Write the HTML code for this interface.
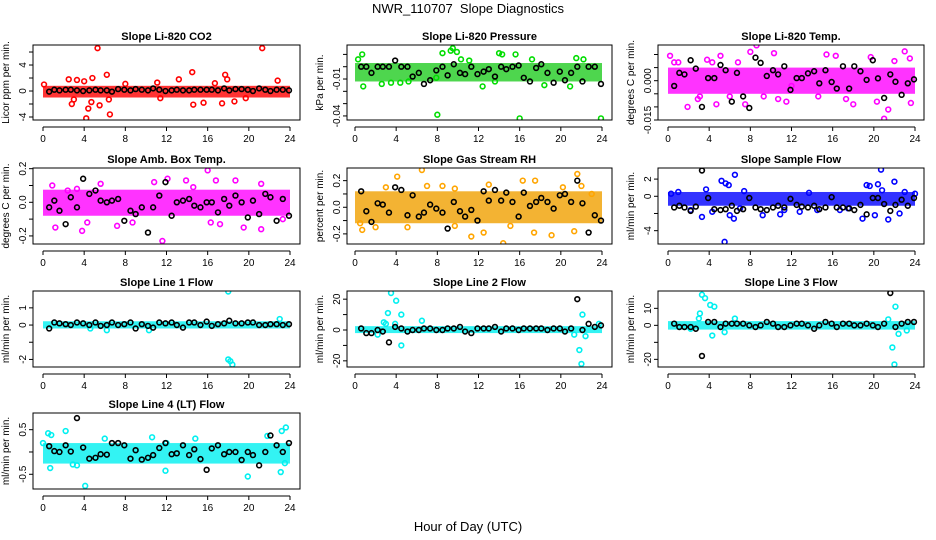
<!DOCTYPE html>
<html><head><meta charset="utf-8">
<style>
body{margin:0;background:#fff;}
svg{display:block;font-family:"Liberation Sans",Arial,sans-serif;}
</style></head>
<body>
<svg id="chart" width="936" height="540" viewBox="0 0 936 540">
<text x="468" y="13" text-anchor="middle" font-size="13">NWR_110707&#160; Slope Diagnostics</text>
<text x="468" y="531" text-anchor="middle" font-size="13">Hour of Day (UTC)</text>
</svg>
<script>
const blackHours=[0.6,1.1,1.6,2.2,2.7,3.3,3.9,4.5,5.1,5.6,6.2,6.7,7.3,7.9,8.5,9.0,9.6,10.2,10.7,11.3,11.9,12.5,13.0,13.6,14.2,14.7,15.3,15.9,16.4,17.0,17.6,18.1,18.7,19.3,19.9,20.4,21.0,21.6,22.1,22.7,23.3,23.9];
const xTicks=[0,4,8,12,16,20,24];
const titles=["Slope Li-820 CO2","Slope Li-820 Pressure","Slope Li-820 Temp.","Slope Amb. Box Temp.","Slope Gas Stream RH","Slope Sample Flow","Slope Line 1 Flow","Slope Line 2 Flow","Slope Line 3 Flow","Slope Line 4 (LT) Flow"];
const yLabels=["Licor ppm per min.","kPa per min.","degrees C per min.","degrees C per min.","percent per min.","ml/min per min.","ml/min per min.","ml/min per min.","ml/min per min.","ml/min per min."];
const colors=["#ff0000","#00dd00","#ff00ff","#ff00ff","#ffa500","#0000ff","#00f0f0","#00f0f0","#00f0f0","#00f0f0"];
const yTickVals=[[-4,-2,0,2,4,6],[0.01,0,-0.01,-0.02,-0.03,-0.04],[0.01,0.005,0,-0.005,-0.01,-0.015],[0.2,0.1,0,-0.1,-0.2],[0.2,0.1,0,-0.1,-0.2],[2,0,-2,-4],[1,0,-1,-2],[20,10,0,-10,-20],[10,0,-10,-20],[0.5,0,-0.5]];
const yTickText=[["-4","","0","","4",""],["","","-0.01","","","-0.04"],["","","0.000","","","-0.015"],["0.2","","0.0","","-0.2"],["0.2","","0.0","","-0.2"],["2","0","","-4"],["1","0","","-2"],["20","","0","","-20"],["10","0","","-20"],["0.5","","-0.5"]];
const bandLo=[-1.0,-0.012,-0.005,-0.08,-0.12,-1.1,-0.2,-2,-2.5,-0.26];
const bandHi=[0.8,0.003,0.005,0.075,0.12,0.5,0.22,2.5,2.5,0.2];
const blackVals=[
[-0.1,0.2,0.1,0.2,0.2,0.1,0,0.1,0.2,0.1,0.1,-0.1,0.3,0.2,0.1,0.3,0.2,0.1,0.4,0.2,0,0.1,0.2,0.1,0.1,0.2,0.2,0.2,0.2,0.1,0.4,0.1,0.3,0.3,0.2,0,0.4,0.2,0,0.2,0.2,0.1],
[0,0,-0.005,0,0,0,0.005,0,0,-0.008,-0.005,-0.014,-0.011,-0.003,0,-0.007,0.002,-0.005,-0.006,0,-0.006,-0.004,-0.002,-0.008,0,-0.002,0,0.001,-0.009,-0.012,-0.001,0.002,-0.005,-0.013,-0.004,-0.011,-0.005,0,-0.012,0,0,-0.014],
[-0.002,0.003,0.0024,0.0078,0.0046,-0.01,0.001,0.001,0.006,0.004,-0.008,0.003,-0.006,-0.0104,0.0088,0.0068,0.0018,0.004,0.0024,0.0055,-0.0035,0.001,0.001,0.0028,0.0036,-0.001,0.004,-0.0005,-0.003,0.0055,-0.003,0.0055,0.0036,0.0003,0.0078,0.0009,-0.0066,0.0024,-0.0004,-0.0054,-0.001,0.0005],
[-0.03,0.01,-0.05,-0.13,0.03,-0.03,0.14,0.05,0.07,0.01,0,0.01,0.02,-0.11,-0.05,-0.07,-0.03,-0.18,-0.03,0.04,0.12,-0.08,0,0.01,0.02,-0.02,-0.03,0,0,-0.06,0.02,-0.02,0.04,0,-0.09,0.01,-0.07,0.05,0.03,-0.11,0.02,-0.08],
[0.12,-0.03,-0.11,0.03,0.02,-0.04,0.15,0.13,-0.06,0.09,-0.07,-0.04,0.02,-0.01,-0.04,-0.16,0.04,-0.03,-0.07,-0.02,-0.1,0.12,0.05,0.13,0.05,0.11,0.04,-0.07,0.11,0.01,0.04,0.07,0.04,-0.01,0.09,0.1,0.04,0.2,0.03,-0.19,-0.06,-0.1],
[-1.3,-1.1,-1.3,-1.7,-1.2,3,-0.2,-1.5,-1.6,-1.5,-1.1,-1.7,-1.5,-0.2,-1.3,-1.5,-1.6,-1.3,-1.1,-1.3,-0.3,-1.0,-1.2,-1.3,-1.1,-1.5,-1.3,-0.1,-1.3,-1.3,-1.4,-1.6,-1.0,-2.1,-0.2,-0.2,-0.9,-1.7,-1.0,-0.4,-1.1,-0.2],
[-0.2,0.15,0.1,0.05,0,0.15,0.1,0,0.15,-0.05,0,0.15,0,0.05,0.15,-0.2,0.05,-0.05,-0.15,0.15,0.1,0.15,0,-0.15,0.15,0.15,0,0.2,-0.05,0.05,0.1,0.25,0.1,0.1,0.15,0.15,0,0,0.05,0.05,0,0.05],
[1,-2,-2,0,-1,-8,2,1,-1,0,0,1,1,0,0,1,1,2,-1,-2,1,1,1,2,-1,1,1,0,1,1,1,1,0,1,1,-1,1,20,0,4,2,3],
[1,-1,-1,-1,-2,-18,2,2,-1,1,1,1,1,0,-1,0,2,1,-1,-1,0,1,1,0,-2,0,2,1,-1,1,1,0,0,1,0,-1,1,19,-1,1,2,2],
[0.13,0.02,0,0.15,0.01,0.76,0.1,-0.15,-0.13,-0.05,-0.06,0.2,0.2,0.15,-0.15,0.04,-0.17,-0.13,-0.07,0.09,0.2,-0.05,-0.03,0.15,-0.07,0.06,-0.16,-0.4,0.08,0.15,-0.05,0,0,-0.18,0,-0.07,-0.3,0,0.37,0.15,0,0.2]];
const outHours=[
[0.1,2.8,3,4.2,4.4,4.7,5.3,5.5,6.2,6.5,6.4,4.8,3.3,2.5,14.5,14.6,15.6,17.7,17.4,18.6,13.2,19.7,21.3,22.8,11.4,11.1,8,16.7,17.9,4],
[0.3,0.7,0.8,2.6,3.5,4.4,8.0,8.5,9.3,9.5,9.9,10.3,14.0,14.3,15.6,16.0,23.9,17.2,18.4,20.9,21.5,22.2,12.4,13.6,5.2,11.1,7.9],
[0.2,0.6,1.9,2.9,3.8,4.3,4.7,5.1,6,7.5,8,8.6,9.3,10.3,10.7,11.5,14.6,15.4,16.3,17.3,18,19.7,20.3,21,21.4,22,23,23.5,23.6,1,12,6.8,3.1],
[0.9,1.2,3.3,3.8,4.3,5.6,7.2,8.7,10.8,11.6,12.1,13.9,16,16.3,16.8,17.2,18.7,19.5,21.2,21.2,23.3,14.6,2.4],
[0.7,0.5,2,3,4.1,5.1,6.5,7,8.5,9.7,11.3,12.5,13,14.4,15.1,16.3,17.5,17.4,19.1,20.2,21.3,21.6,22,23,9.7],
[0.3,1,3.3,3.7,5.2,5.6,5.9,5.5,6,6.4,6.5,7.4,9.2,10.9,13.7,18.9,19.3,19.6,20.1,20.4,20.7,20.8,21.4,22,22.5,23,24,16.7,11.3,2.2,7,14.5,17.5,12.8,4.3],
[18,18,18.2,18.4,6.2,10.3,23,4.6],
[3.2,3.5,4,4.5,4.5,3.9,6.5,22.1,21.8,22,22.4,2.2,21.3,23.7,3,2.8],
[3.1,3.3,3.6,4.1,4.5,4.3,3,6.5,21.8,22,22.1,22.4,21.4,23.2,2.2,5.5],
[0,0.5,0.7,0.8,2.2,4.1,6,10.6,11.9,14.8,19.9,21.8,23.1,23.2,23.6,23.5,12,3.3,2.9]];
const outVals=[
[1,-2,-1.3,-4.2,-2.7,-1.7,6.6,-2.2,2.5,-3.6,-1.3,2,1.7,1.8,2.9,-2.1,-1.8,2.5,-1.9,-1.6,1.8,-1.1,6.6,1.6,-1.1,1.3,1.1,1.2,1.8,1.5],
[0.006,0.01,-0.016,-0.014,-0.013,-0.013,-0.039,0.011,0.013,0.015,0.012,0.006,0.011,0.01,0.01,-0.042,-0.042,0.006,-0.015,-0.016,0.007,0.006,-0.016,-0.012,-0.012,0.005,-0.009],
[0.0095,0.007,-0.01,-0.007,0.008,0.007,-0.009,0.0095,-0.006,-0.009,0.011,0.0135,-0.006,0.0105,-0.007,-0.008,-0.006,0.01,0.0095,-0.007,-0.009,0.009,-0.008,-0.0145,-0.011,0.0075,0.0112,0.0085,-0.0085,0.007,-0.002,0.007,-0.006],
[0.1,-0.15,0.08,-0.17,-0.12,0.11,-0.14,-0.12,0.12,-0.23,0.14,0.13,0.19,-0.12,0.13,-0.13,0.13,-0.15,-0.16,0.11,-0.1,0.09,0.07],
[-0.17,-0.12,-0.15,0.15,0.23,-0.15,0.28,0.16,0.16,0.14,-0.22,-0.19,0.17,-0.27,-0.14,0.2,0.2,-0.19,-0.21,0.15,-0.18,0.25,0.16,0.1,-0.14],
[0.3,0.5,-2.4,0.8,1.8,1.5,1.3,-5.3,-2.2,-2.6,2.5,0.6,-2.2,-2.1,0.4,-2.6,1.3,1.2,-2.2,1.4,3.1,0.7,-2.7,1.7,-2,0.5,0.3,-1.6,-1.6,-1.6,-1.4,-1.6,-1.4,-1.8,-1.8],
[1.95,-2,-2.1,-2.3,-0.3,-0.3,0.35,-0.2],
[11,24,19,10,-10,4,6,10,-13,-22,-4,-3,-3,4,4,5],
[7,18,16,12,11,-6,4,4,-13,-23,11,-5,3.5,-3,-2,-4],
[0.2,0.42,-0.36,0.38,0.47,-0.76,0.3,0.33,-0.42,0.3,-0.55,0.36,-0.45,0.47,0.55,-0.25,0.2,-0.3,-0.28]];
// axis scale domains (value at top / bottom edge of plot box)
const domTop=[7.08,0.01764,0.01362,0.204,0.295,3.29,1.98,25.3,20.2,0.874];
const domBot=[-4.46,-0.0433,-0.015,-0.248,-0.276,-5.55,-2.44,-24.0,-24.5,-0.83];

const NS="http://www.w3.org/2000/svg";
const svg=document.getElementById('chart');
const colBox=[[33,300],[347,612],[658,924]];
const colX0=[43,355,668];
const colX24=[290,602,915];
const rowBox=[[45,120],[168,244],[291,367],[413,489]];
function mk(tag,attrs,parent){const e=document.createElementNS(NS,tag);for(const k in attrs)e.setAttribute(k,attrs[k]);(parent||svg).appendChild(e);return e;}

titles.forEach((t,i)=>{
  const c=i%3,r=Math.floor(i/3);
  const [L,R]=colBox[c],[T,B]=rowBox[r];
  const g=mk('g',{});
  
  
  const xs=h=>colX0[c]+(colX24[c]-colX0[c])*h/24;
  const ys=v=>T+(domTop[i]-v)/(domTop[i]-domBot[i])*(B-T);
  const clip=mk('clipPath',{id:'cl'+i},g);
  mk('rect',{x:L,y:T,width:R-L,height:B-T},clip);
  const pg=mk('g',{'clip-path':'url(#cl'+i+')'},g);
  
  
  const band=mk('rect',{x:xs(0),y:ys(bandHi[i]),width:xs(24)-xs(0),height:ys(bandLo[i])-ys(bandHi[i]),fill:colors[i],opacity:0.8},pg);
  
  
  if(i===4){band.setAttribute('fill','#f0a000');}
  if(i===1){band.setAttribute('fill','#22cc22');}
  outHours[i].forEach((h,j)=>{
    const p=mk('circle',{cx:xs(h),cy:ys(outVals[i][j]),r:2.4,fill:'none',stroke:colors[i],'stroke-width':1.6},pg);
    
    
  });
  blackHours.forEach((h,j)=>{
    const p=mk('circle',{cx:xs(h),cy:ys(blackVals[i][j]),r:2.4,fill:'none',stroke:'#000','stroke-width':1.6},pg);
    
    
  });
  const box=mk('rect',{x:L,y:T,width:R-L,height:B-T,fill:'none',stroke:'#000','stroke-width':1},g);
  
  
  const tt=mk('text',{x:(L+R)/2,y:T-5,'text-anchor':'middle','font-size':11,'font-weight':'bold'},g);
  tt.textContent=t;
  
  
  const ax=B+7;
  mk('line',{x1:xs(0),x2:xs(24),y1:ax,y2:ax,stroke:'#000'},g);
  xTicks.forEach(v=>{
    mk('line',{x1:xs(v),x2:xs(v),y1:ax,y2:ax+4,stroke:'#000'},g);
    const tx=mk('text',{x:xs(v),y:ax+15,'text-anchor':'middle','font-size':10},g);
    tx.textContent=v;
    
    
  });
  const yv=yTickVals[i].filter(v=>v<=domTop[i]&&v>=domBot[i]);
  const ymin=Math.min(...yv),ymax=Math.max(...yv);
  mk('line',{x1:L,x2:L,y1:ys(ymax),y2:ys(ymin),stroke:'#000'},g);
  yTickVals[i].forEach((v,k)=>{
    if(v>domTop[i]||v<domBot[i])return;
    const y=ys(v);
    mk('line',{x1:L-4,x2:L,y1:y,y2:y,stroke:'#000'},g);
    const s=yTickText[i][k];
    if(s){
      const tx=mk('text',{x:L-7,y:y,'text-anchor':'middle','font-size':10,transform:`rotate(-90 ${L-7} ${y})`},g);
      tx.textContent=s;
      
      
    }
  });
  const yl=mk('text',{x:L-24,y:(T+B)/2,'text-anchor':'middle','font-size':10,transform:`rotate(-90 ${L-24} ${(T+B)/2})`},g);
  yl.textContent=yLabels[i];
  
  
});
</script>
</body></html>
